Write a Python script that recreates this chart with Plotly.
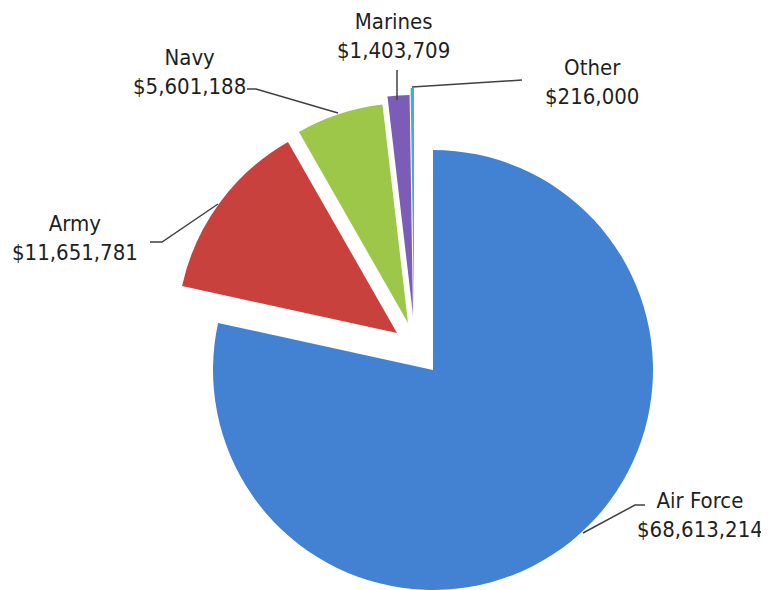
import plotly.graph_objects as go

# ---- data ----
categories = ["Air Force", "Army", "Navy", "Marines", "Other"]
values = [68613214, 11651781, 5601188, 1403709, 216000]

# ---- styling / layout (not data) ----
colors = ["#4382d3", "#c9413d", "#9cc749", "#7d5cb8", "#4bacc6"]
PAGE_MARGIN = 8              # default body margin of the html page
W, H = 769 - PAGE_MARGIN, 590 - PAGE_MARGIN
R = 220                      # pie radius in px
CENTER = (433, 370)          # centre of the un-exploded pie, screen px
EXPLODE = [(0, 0), (-36, -37), (-25, -47), (-20, -55), (-19, -62)]  # px offsets of slice apexes

# label centres (screen px) and leader-line paths (screen px)
LABEL_POS = [(700, 515), (75, 238), (189, 72), (393, 36), (592, 82)]
LEADERS = [
    [(645, 505), (635, 505), (583, 533)],
    [(150, 242), (162, 242), (218, 204)],
    [(247, 89), (256, 89), (338, 113)],
    [(397, 70), (397, 100)],
    [(522, 80), (412, 87)],
]
FONT = "DejaVu Sans Condensed, Liberation Sans, Arial, sans-serif"


def fx(x):
    return (x - PAGE_MARGIN) / W


def fy(y):
    return 1 - (y - PAGE_MARGIN) / H


fig = go.Figure()
for i, cat in enumerate(categories):
    cx = CENTER[0] + EXPLODE[i][0]
    cy = CENTER[1] + EXPLODE[i][1]
    x0 = max(0.0, fx(cx - R))
    x1 = min(1.0, fx(cx + R))
    y0 = max(0.0, fy(cy + R))
    y1 = min(1.0, fy(cy - R))
    cols = ["rgba(0,0,0,0)"] * len(categories)
    cols[i] = colors[i]
    fig.add_trace(go.Pie(
        labels=categories,
        values=values,
        sort=False,
        direction="clockwise",
        rotation=0,
        marker=dict(colors=cols, line=dict(width=0)),
        textinfo="none",
        hoverinfo="label+value",
        showlegend=False,
        domain=dict(x=[x0, x1], y=[y0, y1]),
    ))

annotations = []
for i, cat in enumerate(categories):
    px, py = LABEL_POS[i]
    annotations.append(dict(
        x=fx(px), y=fy(py), xref="paper", yref="paper",
        text=f"{cat}<br>${values[i]:,}",
        showarrow=False, xanchor="center", yanchor="middle", align="center",
        font=dict(family=FONT, size=22, color="#1f1f1f"),
    ))

shapes = []
for pts in LEADERS:
    path = "M " + " L ".join(f"{fx(x):.5f},{fy(y):.5f}" for x, y in pts)
    shapes.append(dict(type="path", path=path, xref="paper", yref="paper",
                       line=dict(color="#404040", width=1.5)))

fig.update_layout(
    width=W, height=H,
    margin=dict(l=0, r=0, t=0, b=0),
    paper_bgcolor="white",
    plot_bgcolor="white",
    annotations=annotations,
    shapes=shapes,
)

fig.write_html("out.html")
